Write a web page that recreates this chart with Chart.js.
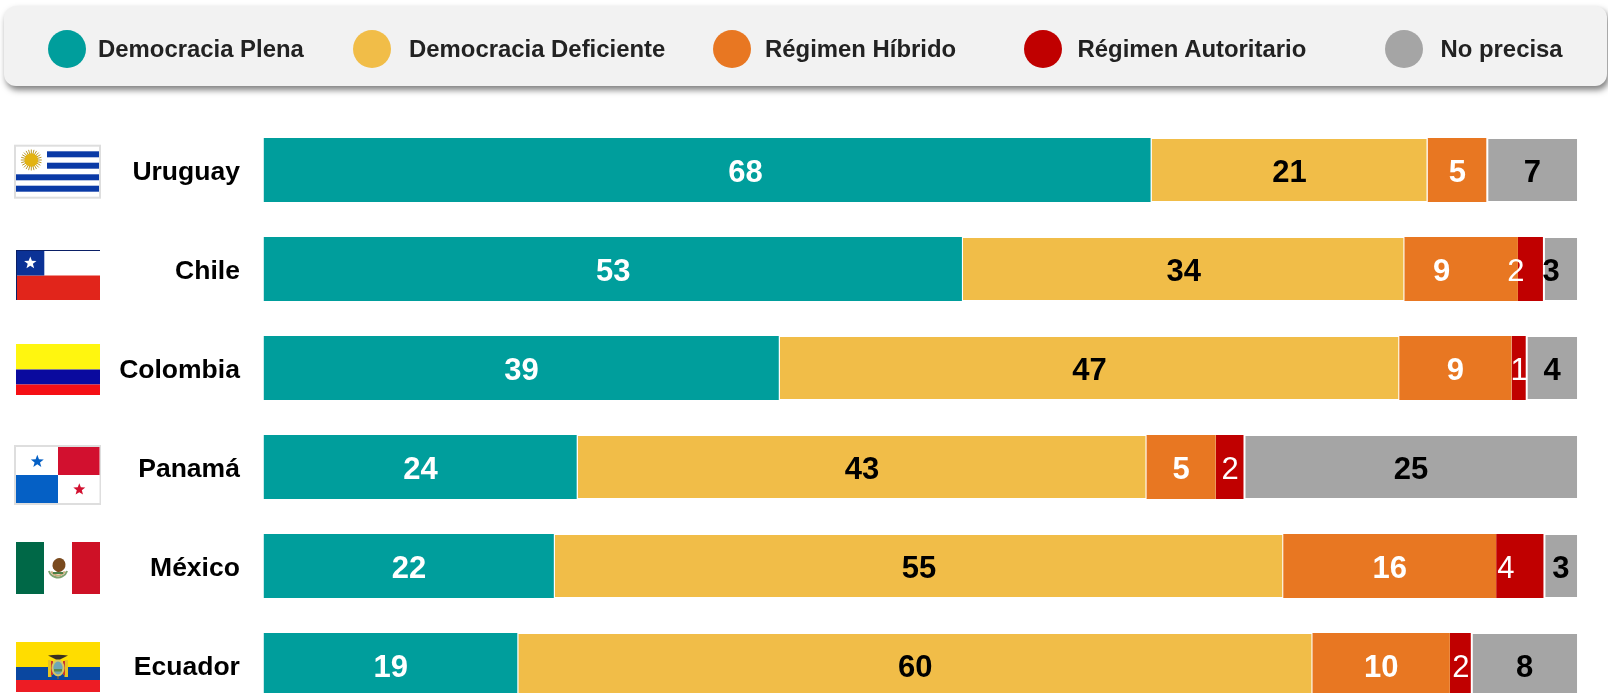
<!DOCTYPE html>
<html lang="es">
<head>
<meta charset="utf-8">
<title>Tipo de régimen por país</title>
<script src="https://cdn.jsdelivr.net/npm/chart.js@4"></script>
<style>
html,body{margin:0;padding:0;background:#fff;width:1608px;height:693px;overflow:hidden;font-family:"Liberation Sans",Arial,sans-serif}
#wrap{position:absolute;left:0;top:0;width:1608px;height:800px}
#c{position:absolute;left:0;top:0}
#legend{position:absolute;left:4px;top:6px;width:1603px;height:79.5px;background:#f2f2f2;border-radius:12px;box-shadow:2px 4px 6px rgba(0,0,0,.5)}
.sw{position:absolute;top:24px;width:38px;height:38px;border-radius:50%}
.lt{position:absolute;top:27.5px;font-size:23.9px;font-weight:700;line-height:30px;color:#222;white-space:nowrap}
</style>
</head>
<body>
<div id="wrap">
<canvas id="c" width="1608" height="800"></canvas>
<div id="legend"></div>
</div>
<script>
// ---- data ----
const categories = ["Uruguay","Chile","Colombia","Panamá","México","Ecuador"];
const seriesNames = ["Democracia Plena","Democracia Deficiente","Régimen Híbrido","Régimen Autoritario","No precisa"];
const plena       = [67.6, 53.24, 39.3, 23.92, 22.18, 19.4];
const deficiente  = [21.0, 33.6, 47.15, 43.29, 55.44, 60.44];
const hibrido     = [4.55, 8.64, 8.54, 5.27, 16.2, 10.46];
const autoritario = [0, 1.98, 1.16, 2.19, 3.68, 1.67];
const noPrecisa   = [6.85, 2.54, 3.85, 25.33, 2.5, 8.03];

// ---- style / layout ----
const seriesColors = ["#009E9C","#F1BD48","#E87722","#C00000","#A5A5A5"];
const labelColors  = ["#fff","#000","#fff","#fff","#000"];
const labelWeights = ["700","700","700","400","700"];
const legendSwatchX = [44,349,709,1020,1380.5];
const legendTextX   = [94,405,761,1073.5,1436.5];
const plotBottom = 714.5; // rows run past the bottom of the page, as in the original
// hand-placed labels of the original: "dataset:row" -> horizontal shift
const labelNudge = {"0:0":38,"2:1":-19.5,"3:1":-15,"4:1":-9.5,"3:4":-14.5};

// legend
const lg = document.getElementById('legend');
seriesNames.forEach((n,i)=>{
  const s=document.createElement('div'); s.className='sw'; s.style.left=legendSwatchX[i]+'px'; s.style.background=seriesColors[i]; lg.appendChild(s);
  const t=document.createElement('div'); t.className='lt'; t.style.left=legendTextX[i]+'px'; t.textContent=n; lg.appendChild(t);
});

// ---- flag drawing ----
function star(g,cx,cy,r,col){
  g.fillStyle=col; g.beginPath();
  for(let i=0;i<10;i++){const a=-Math.PI/2+i*Math.PI/5,q=i%2?r*0.42:r;g.lineTo(cx+q*Math.cos(a),cy+q*Math.sin(a));}
  g.closePath(); g.fill();
}
function rect(g,col,x,y,w,h){g.fillStyle=col;g.fillRect(x,y,w,h);}
const flagPainters = {
  "Uruguay":(g,cy)=>{
    const t=cy-25.3;
    rect(g,'#dedede',14,t,87,54); rect(g,'#fff',16,t+2,83,50);
    [[47,6.6],[47,18],[16,29.6],[16,41]].forEach(([x,o])=>rect(g,'#0A3AA6',x,t+o,99-x,6));
    const sx=31.3,sy=t+15.3;
    g.strokeStyle='#B9982A'; g.lineWidth=1;
    for(let i=0;i<24;i++){const a=i*Math.PI/12;g.beginPath();g.moveTo(sx+5*Math.cos(a),sy+5*Math.sin(a));g.lineTo(sx+10.5*Math.cos(a),sy+10.5*Math.sin(a));g.stroke();}
    g.fillStyle='#E3B312'; g.beginPath(); g.arc(sx,sy,6.8,0,7); g.fill();
  },
  "Chile":(g,cy)=>{
    const t=cy-19;
    rect(g,'#fff',16,t,84,25.5); rect(g,'#E1251B',16,t+25.5,84,24.5);
    rect(g,'#0B3296',16,t,28.3,25.5); rect(g,'#0A1F66',16,t,84,1); rect(g,'#0A1F66',16,t,1,50);
    star(g,30.3,t+13,6.5,'#fff');
  },
  "Colombia":(g,cy)=>{
    const t=cy-24;
    rect(g,'#FFF60F',16,t,84,25.5); rect(g,'#0A0A9E',16,t+25.5,84,15); rect(g,'#F50F14',16,t+40.5,84,10.5);
  },
  "Panamá":(g,cy)=>{
    const t=cy-22;
    rect(g,'#dedede',14,t,87,60); rect(g,'#fff',16,t+2,83.5,56);
    rect(g,'#D2102F',58,t+2,41.5,28); rect(g,'#0560C5',16,t+30,42,28);
    star(g,37.3,t+16.5,6.8,'#0560C5'); star(g,79.3,t+44.5,6.3,'#D2102F');
  },
  "México":(g,cy)=>{
    const t=cy-24;
    rect(g,'#006847',16,t,28,52); rect(g,'#fff',44,t,28,52); rect(g,'#CE1126',72,t,28,52);
    const mx=58,my=t+26;
    g.lineWidth=2; g.strokeStyle='#7FA36F'; g.beginPath(); g.arc(mx,my,9.5,Math.PI*0.1,Math.PI*0.9); g.stroke();
    g.strokeStyle='#C9A97A'; g.beginPath(); g.arc(mx,my,7.5,Math.PI*0.15,Math.PI*0.85); g.stroke();
    g.fillStyle='#7A4A1E'; g.beginPath(); g.ellipse(mx+1,my-3,6.5,7,0.3,0,7); g.fill();
    rect(g,'#4E7F46',mx-5,my+4,10,2);
  },
  "Ecuador":(g,cy)=>{
    const t=cy-23;
    rect(g,'#FFDD00',16,t,84,25); rect(g,'#0A47A0',16,t+25,84,13); rect(g,'#ED1C24',16,t+38,84,12);
    const ex=58,ey=t+25;
    g.fillStyle='#E7C320'; g.fillRect(ex-10,ey-7,3.5,17); g.fillRect(ex+6.5,ey-7,3.5,17);
    g.fillStyle='#C8372D'; g.fillRect(ex-7,ey-6,2,14); g.fillRect(ex+5,ey-6,2,14);
    g.fillStyle='#D9C860'; g.beginPath(); g.ellipse(ex,ey+1,6.5,8.5,0,0,7); g.fill();
    g.fillStyle='#6FA7B5'; g.beginPath(); g.ellipse(ex,ey+1,4.6,6.4,0,0,7); g.fill();
    g.fillStyle='#5A8A4A'; g.fillRect(ex-4,ey+2,8,2.5);
    g.fillStyle='#3A3020'; g.beginPath(); g.moveTo(ex-10,ey-11.5); g.quadraticCurveTo(ex,ey-13,ex+10,ey-11.5); g.lineTo(ex+2,ey-7.5); g.lineTo(ex-2,ey-7.5); g.closePath(); g.fill();
    g.strokeStyle='#9A6A2A'; g.lineWidth=1; g.beginPath(); g.moveTo(ex,ey+9); g.lineTo(ex,ey+12); g.stroke();
  }
};

// ---- plugins ----
const flagsPlugin = {
  id:'flags',
  afterDraw(chart){
    const g=chart.ctx, ys=chart.scales.y;
    g.save();
    categories.forEach((name,i)=>flagPainters[name](g,ys.getPixelForValue(i)));
    g.restore();
  }
};
const valueLabels = {
  id:'valueLabels',
  afterDatasetsDraw(chart){
    const g=chart.ctx;
    g.save();
    g.textAlign='center'; g.textBaseline='alphabetic';
    chart.data.datasets.forEach((ds,d)=>{
      chart.getDatasetMeta(d).data.forEach((bar,r)=>{
        const v=ds.data[r];
        if(!v) return;
        const p=bar.getProps(['x','y','base'],true);
        const cx=(p.x+p.base)/2+(labelNudge[d+':'+r]||0);
        g.font=labelWeights[d]+' 31px "Liberation Sans", Arial, sans-serif';
        g.fillStyle=labelColors[d];
        g.fillText(String(Math.round(v)),cx,p.y+12);
      });
    });
    g.restore();
  }
};

// ---- chart ----
const seriesValues=[plena,deficiente,hibrido,autoritario,noPrecisa];
const borderFor=[
  ()=>({right:1}),
  ()=>({left:0,right:1,top:1,bottom:1}),
  ctx=>({right:autoritario[ctx.dataIndex]?0:1}),
  ()=>({right:1}),
  ()=>({left:1,right:0,top:1,bottom:1})
];
const chart = new Chart(document.getElementById('c'),{
  type:'bar',
  data:{
    labels:categories,
    datasets:seriesNames.map((n,i)=>({
      label:n,
      data:seriesValues[i],
      backgroundColor:seriesColors[i],
      borderColor:'#ffffff',
      borderWidth:borderFor[i],
      borderSkipped:false,
      barPercentage:64/99,
      categoryPercentage:1
    }))
  },
  options:{
    indexAxis:'y',
    responsive:false,
    maintainAspectRatio:false,
    animation:false,
    layout:{autoPadding:false,padding:{top:120.5,bottom:85.5,left:0,right:30.7}},
    plugins:{legend:{display:false},tooltip:{enabled:false},title:{display:false}},
    scales:{
      x:{stacked:true,display:false,min:0,max:100},
      y:{
        stacked:true,
        afterFit(s){s.width=263.4;},
        grid:{display:false,drawTicks:false},
        border:{display:false},
        ticks:{color:'#000',padding:23.5,labelOffset:2.7,font:{family:'"Liberation Sans", Arial, sans-serif',size:26.5,weight:'700'}}
      }
    }
  },
  plugins:[flagsPlugin,valueLabels]
});
// settle the plot bottom on the intended row pitch
for(let k=0;k<3;k++){
  const diff=chart.chartArea.bottom-plotBottom;
  if(Math.abs(diff)<0.05) break;
  chart.options.layout.padding.bottom+=diff;
  chart.update();
}
</script>
</body>
</html>
